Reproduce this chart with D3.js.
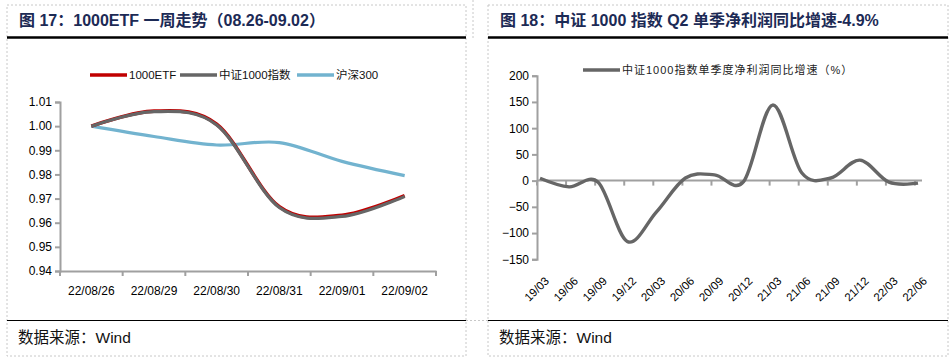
<!DOCTYPE html>
<html>
<head>
<meta charset="utf-8">
<script src="https://cdn.jsdelivr.net/npm/d3@7"></script>
<style>
  body { margin: 0; background: #fff; }
  svg text { font-family: "Liberation Sans", Arial, "Noto Sans CJK SC", sans-serif; }
</style>
</head>
<body>
<div id="chart"></div>
<script>
// data
var weekDates = ['22/08/26', '22/08/29', '22/08/30', '22/08/31', '22/09/01', '22/09/02'];
var etfValues = [1.000, 1.0062, 1.0008, 0.9666, 0.9631, 0.9712];
var csiValues = [1.000, 1.0060, 1.0005, 0.9663, 0.9626, 0.9709];
var hs300Values = [1.000, 0.9957, 0.9922, 0.9932, 0.9854, 0.9795];
var weekTicks = [0.94, 0.95, 0.96, 0.97, 0.98, 0.99, 1.00, 1.01];

var quarters = ['19/03', '19/06', '19/09', '19/12', '20/03', '20/06', '20/09',
                '20/12', '21/03', '21/06', '21/09', '21/12', '22/03', '22/06'];
var profitGrowth = [4.5, -12, -3, -116, -60, 5, 11, -2, 144, 15, 5, 39, -3, -4.9];
var growthTicks = [-150, -100, -50, 0, 50, 100, 150, 200];

var svgWidth = 951, svgHeight = 362;
var axisColor = '#a0a0a0';
var titleColor = '#1c2a55';

var svg = d3.select('#chart')
    .append('svg')
    .attr('width', svgWidth)
    .attr('height', svgHeight);

// panel frames (dashed table cells), title rules and source notes
function drawPanel(x0, x1, title) {
    svg.append('rect')
        .attr('x', x0).attr('y', 5)
        .attr('width', x1 - x0).attr('height', 351)
        .attr('fill', 'none')
        .attr('stroke', '#c8c8c8')
        .attr('stroke-dasharray', '2,2');
    svg.append('text')
        .attr('x', x0 + 12).attr('y', 26)
        .attr('fill', titleColor)
        .attr('font-size', '16px')
        .attr('font-weight', 'bold')
        .text(title);
    svg.append('line')
        .attr('x1', x0).attr('x2', x1)
        .attr('y1', 37.5).attr('y2', 37.5)
        .attr('stroke', '#000')
        .attr('stroke-width', 2.5);
    svg.append('line')
        .attr('x1', x0).attr('x2', x1)
        .attr('y1', 320.5).attr('y2', 320.5)
        .attr('stroke', '#000')
        .attr('stroke-width', 1);
    var note = svg.append('text')
        .attr('x', x0 + 11).attr('y', 343)
        .attr('font-size', '15.5px')
        .attr('fill', '#111');
    note.append('tspan').attr('font-family', '"Noto Sans CJK SC"').text('数据来源：');
    note.append('tspan').text('Wind');
}
drawPanel(7, 466, '图 17：1000ETF 一周走势（08.26-09.02）');
drawPanel(488, 948, '图 18：中证 1000 指数 Q2 单季净利润同比增速-4.9%');

// small leftover table borders between the panels
svg.append('line')
    .attr('x1', 473).attr('x2', 473).attr('y1', 0).attr('y2', 40)
    .attr('stroke', '#c8c8c8').attr('stroke-dasharray', '2,2');
svg.append('line')
    .attr('x1', 466).attr('x2', 488).attr('y1', 320.5).attr('y2', 320.5)
    .attr('stroke', '#c8c8c8').attr('stroke-dasharray', '2,2');

// ---------- left chart: one week trend ----------
var xBand = d3.scaleBand()
    .domain(weekDates)
    .range([60, 436]);
var yWeek = d3.scaleLinear()
    .domain([0.94, 1.01])
    .range([271, 102]);

var left = svg.append('g');

// y axis
var leftAxis = left.append('g')
    .attr('transform', 'translate(60,0)')
    .call(d3.axisLeft(yWeek).tickValues(weekTicks).tickFormat(d3.format('.2f')).tickSize(5).tickPadding(3));
// x axis with labels centred in bands
var bottomAxis = left.append('g')
    .attr('transform', 'translate(0,271)')
    .call(d3.axisBottom(xBand).tickSize(0).tickPadding(15));
// tick marks on the band edges
left.append('g').selectAll('line')
    .data(weekDates.concat(['end']))
    .enter()
    .append('line')
    .attr('x1', (d, i) => 60 + i * xBand.bandwidth())
    .attr('x2', (d, i) => 60 + i * xBand.bandwidth())
    .attr('y1', 271).attr('y2', 276)
    .attr('stroke', axisColor)
    .attr('stroke-width', 2);

[leftAxis, bottomAxis].forEach(function(ax) {
    ax.select('.domain').attr('stroke', axisColor).attr('stroke-width', 2);
    ax.selectAll('.tick line').attr('stroke', axisColor).attr('stroke-width', 2);
    ax.selectAll('.tick text')
        .attr('font-family', '"Liberation Sans", Arial, sans-serif')
        .attr('font-size', '12px')
        .attr('fill', '#000');
});

var weekLine = d3.line()
    .x((d, i) => xBand(weekDates[i]) + xBand.bandwidth() / 2)
    .y(d => yWeek(d))
    .curve(d3.curveCardinal.tension(0));

left.append('path')
    .datum(hs300Values)
    .attr('d', weekLine)
    .attr('fill', 'none')
    .attr('stroke', '#72b3cf')
    .attr('stroke-width', 3.2);
left.append('path')
    .datum(etfValues)
    .attr('d', weekLine)
    .attr('fill', 'none')
    .attr('stroke', '#c00000')
    .attr('stroke-width', 3.6);
left.append('path')
    .datum(csiValues)
    .attr('d', weekLine)
    .attr('fill', 'none')
    .attr('stroke', '#666666')
    .attr('stroke-width', 3.2);

// legend
var weekLegend = [
    {name: '1000ETF', color: '#c00000', x: 90},
    {name: '中证1000指数', color: '#666666', x: 180},
    {name: '沪深300', color: '#72b3cf', x: 297}
];
var legendItems = left.selectAll('.legend')
    .data(weekLegend)
    .enter()
    .append('g')
    .attr('transform', d => `translate(${d.x},75)`);
legendItems.append('line')
    .attr('x1', 0).attr('x2', 37)
    .attr('stroke', d => d.color)
    .attr('stroke-width', 3.5);
legendItems.append('text')
    .attr('x', 39).attr('y', 4)
    .attr('font-size', '11.5px')
    .attr('fill', '#111')
    .text(d => d.name);

// ---------- right chart: quarterly net profit growth ----------
var xQuarter = d3.scalePoint()
    .domain(quarters)
    .range([540, 918]);
var yGrowth = d3.scaleLinear()
    .domain([-150, 200])
    .range([259.3, 75.7]);

var right = svg.append('g');

var growthAxis = right.append('g')
    .attr('transform', 'translate(537,0)')
    .call(d3.axisLeft(yGrowth).tickValues(growthTicks).tickFormat(d3.format('d')).tickSize(5).tickPadding(3));
growthAxis.select('.domain').attr('stroke', axisColor).attr('stroke-width', 2);
growthAxis.selectAll('.tick line').attr('stroke', axisColor).attr('stroke-width', 2);
growthAxis.selectAll('.tick text')
    .attr('font-size', '12px')
    .attr('fill', '#000');

// x axis crossing at zero
right.append('line')
    .attr('x1', 537).attr('x2', 922)
    .attr('y1', yGrowth(0)).attr('y2', yGrowth(0))
    .attr('stroke', axisColor)
    .attr('stroke-width', 2);
right.append('g').selectAll('line')
    .data(quarters)
    .enter()
    .append('line')
    .attr('x1', d => xQuarter(d) - 3)
    .attr('x2', d => xQuarter(d) - 3)
    .attr('y1', yGrowth(0)).attr('y2', yGrowth(0) + 5)
    .attr('stroke', axisColor)
    .attr('stroke-width', 2);

// rotated quarter labels at the bottom of the plot
right.append('g').selectAll('text')
    .data(quarters)
    .enter()
    .append('text')
    .attr('transform', d => `translate(${xQuarter(d) + 4},276) rotate(-45)`)
    .attr('text-anchor', 'end')
    .attr('dy', '0.7em')
    .attr('font-size', '11.5px')
    .attr('fill', '#000')
    .text(d => d);

var growthLine = d3.line()
    .x((d, i) => xQuarter(quarters[i]))
    .y(d => yGrowth(d))
    .curve(d3.curveCardinal.tension(0));

right.append('path')
    .datum(profitGrowth)
    .attr('d', growthLine)
    .attr('fill', 'none')
    .attr('stroke', '#666666')
    .attr('stroke-width', 3.4);

// legend
var growthLegend = right.append('g')
    .attr('transform', 'translate(583,70)');
growthLegend.append('line')
    .attr('x1', 0).attr('x2', 37)
    .attr('stroke', '#666666')
    .attr('stroke-width', 3.5);
growthLegend.append('text')
    .attr('x', 39).attr('y', 4)
    .attr('font-size', '11px')
    .attr('letter-spacing', '1px')
    .attr('fill', '#222')
    .text('中证1000指数单季度净利润同比增速（%）');
</script>
</body>
</html>
